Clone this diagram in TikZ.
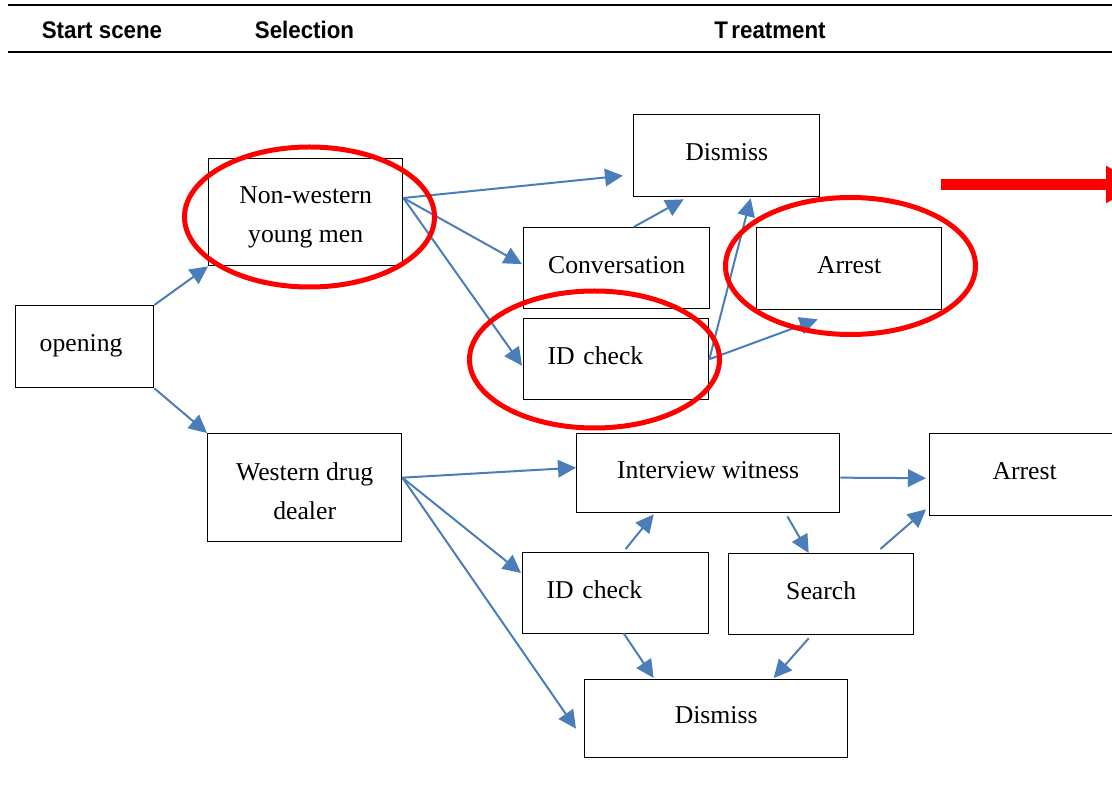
\documentclass[tikz,border=0pt]{standalone}
\usepackage{fontspec}
\setmainfont{Liberation Serif}
\newfontfamily\hdrfont[FakeStretch=0.93]{Liberation Sans}
\usetikzlibrary{arrows.meta,calc,shapes.geometric}
\definecolor{flowblue}{RGB}{74,126,187}
\begin{document}
\begin{tikzpicture}[x=1pt,y=-1pt,
  box/.style={draw=black, line width=1.35pt, rectangle, inner sep=0pt, anchor=north west, font=\fontsize{25.7}{39}\selectfont},
  single/.style={text height=17pt, text depth=6.6pt},
  leftpad/.style={inner xsep=24pt, align=left, text width=#1},
  flow/.style={draw=flowblue, line width=2pt, -{Triangle[length=18pt,width=17.5pt]}},
  ring/.style={draw=red, line width=5pt, ellipse, inner sep=0pt},
  hdr/.style={font=\hdrfont\bfseries\fontsize{24}{28}\selectfont, anchor=base}]
\useasboundingbox (0,0) rectangle (1112,799);
% header
\draw[line width=2pt] (8,5) -- (1115,5);
\draw[line width=2pt] (8,52) -- (1115,52);
\node[hdr] (h1) at (102,38.3) {Start scene};
\node[hdr] (h2) at (304.5,38.3) {Selection};
\node[hdr] (h3) at (770,38.3) {T\kern3.5pt reatment};
% boxes
\node[box, single, leftpad=90pt, minimum height=82pt] (open) at (15,305) {opening};
\node[box, align=center, minimum width=194pt, minimum height=107pt] (nw) at (208,158) {\rule{0pt}{28pt}Non-western\\young men};
\node[box, align=center, minimum width=194pt, minimum height=108pt] (wd) at (207,433) {\rule{0pt}{25pt}Western drug\\dealer};
\node[box, single, minimum width=186pt, minimum height=82pt] (dis1) at (633,114) {Dismiss};
\node[box, single, minimum width=186pt, minimum height=81pt] (conv) at (523,227) {Conversation};
\node[box, single, leftpad=137pt, minimum height=81pt] (id1) at (523,318) {ID check};
\node[box, single, minimum width=185pt, minimum height=82pt] (arr1) at (756,227) {Arrest};
\node[box, single, minimum width=263pt, minimum height=79pt] (iw) at (576,433) {Interview witness};
\node[box, single, minimum width=190pt, minimum height=82pt] (arr2) at (929,433) {Arrest};
\node[box, single, leftpad=138pt, minimum height=81pt] (id2) at (522,552) {ID check};
\node[box, single, minimum width=185pt, minimum height=81pt] (srch) at (728,553) {Search};
\node[box, single, minimum width=263pt, minimum height=78pt] (dis2) at (584,679) {Dismiss};
% connectors
\coordinate (nwout) at ($(nw.north east)+(0,40)$);
\coordinate (wdout) at ($(wd.east)+(0,-10)$);
\draw[flow] (open.north east) -- (nw.south west);
\draw[flow] (open.south east) -- (wd.north west);
\draw[flow] (nwout) -- ($(dis1.west)+(-10,20)$);
\draw[flow] (nwout) -- ($(conv.west)+(-1,-4)$);
\draw[flow] (nwout) -- ($(id1.west)+(-1,6.5)$);
\draw[flow] ($(conv.north)+(17,0)$) -- ($(dis1.south)+(-43,2)$);
\draw[flow] (id1.east) -- ($(dis1.south)+(24,1)$);
\draw[flow] (id1.east) -- ($(arr1.south)+(-31.5,9)$);
\draw[flow] (wdout) -- ($(iw.west)+(0,-5.5)$);
\draw[flow] (wdout) -- ($(id2.north west)+(-1,21)$);
\draw[flow] (wdout) -- ($(dis2.west)+(-8,10)$);
\draw[flow] ($(iw.east)+(0,4.5)$) -- ($(arr2.west)+(-3,3.5)$);
\draw[flow] ($(id2.north)+(10,-3)$) -- ($(iw.south)+(-54.5,1)$);
\draw[flow] ($(iw.south east)+(-53,3)$) -- ($(srch.north)+(-12.5,0)$);
\draw[flow] ($(srch.north east)+(-34,-4)$) -- ($(arr2.south west)+(-3,-7)$);
\draw[flow] ($(id2.south)+(8,-1)$) -- ($(dis2.north)+(-62.5,-1)$);
\draw[flow] ($(srch.south)+(-12.5,3)$) -- ($(dis2.north)+(57.5,-1)$);
% red highlights
\node[ring, minimum width=250pt, minimum height=140pt] (ring1) at (309.5,217) {};
\node[ring, minimum width=250pt, minimum height=137pt] (ring2) at (594.5,359.5) {};
\node[ring, minimum width=250pt, minimum height=137pt] (ring3) at (850.5,266) {};
\coordinate (rs) at (941,184.5);
\coordinate (re) at (1140,184.5);
\draw[red, line width=11pt, -{Triangle[length=34pt,width=35pt]}] (rs) -- (re);
\end{tikzpicture}
\end{document}
